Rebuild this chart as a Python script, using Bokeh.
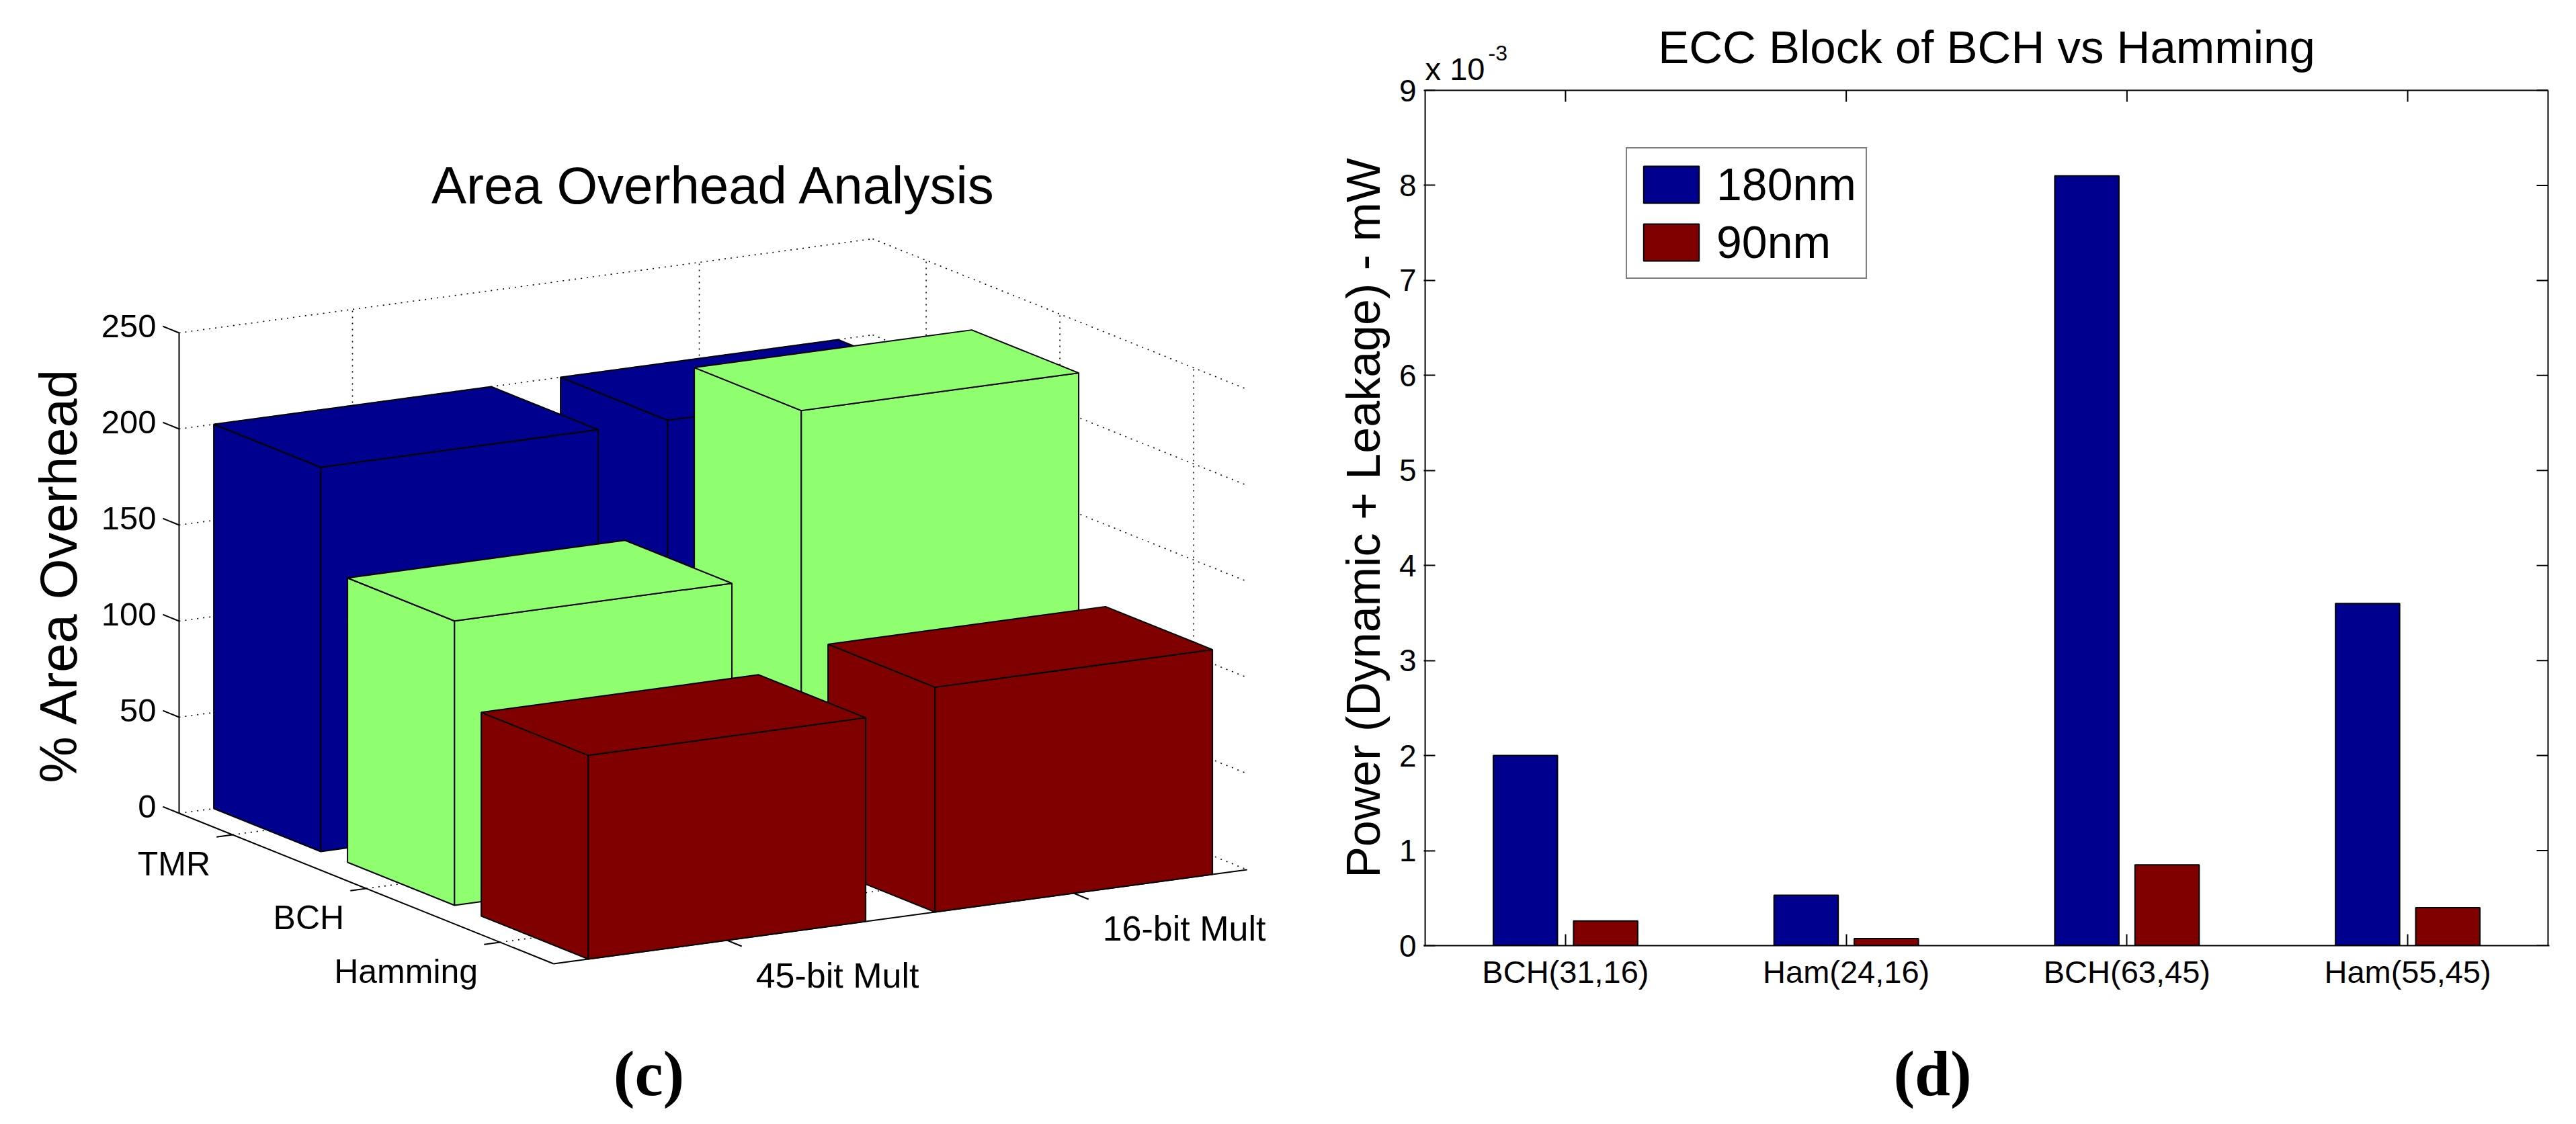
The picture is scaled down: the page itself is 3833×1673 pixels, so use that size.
import math
from bokeh.plotting import figure
from bokeh.models import Range1d, FactorRange, ColumnDataSource, FixedTicker
from bokeh.layouts import row, column
from bokeh.transform import dodge
from bokeh.core.properties import value
from bokeh.embed import file_html
from bokeh.resources import INLINE

# ---------------- data: panel (c) Area Overhead Analysis ----------------
rows_c = ["TMR", "BCH", "Hamming"]
cols_c = ["45-bit Mult", "16-bit Mult"]
tmr_overhead = [200, 200]
bch_overhead = [148, 233]
hamming_overhead = [106, 117]
z_ticks = [0, 50, 100, 150, 200, 250]

# ---------------- data: panel (d) ECC Block of BCH vs Hamming ----------------
codes = ["BCH(31,16)", "Ham(24,16)", "BCH(63,45)", "Ham(55,45)"]
power_180nm = [2.00, 0.53, 8.10, 3.60]   # units of 10^-3 mW
power_90nm = [0.26, 0.075, 0.85, 0.40]   # units of 10^-3 mW
y_ticks_d = [0, 1, 2, 3, 4, 5, 6, 7, 8, 9]

# colours (jet colormap, as in the source)
BLUE, GREEN, RED = "#00008F", "#8FFF70", "#800000"
row_colors = [BLUE, GREEN, RED]

SANS = "Liberation Sans"
SERIF = "Liberation Serif"

W_L, W_R, H_TOP, H_BOT = 2070, 1747, 1512, 145
H_ALL = H_TOP + H_BOT
B_BOT = 105   # bottom border of the bar chart
B_LEFT, B_RIGHT = 48, 24

# =============== panel (c): oblique 3-D bars drawn in pixel space ===============
pc = figure(width=W_L, height=H_ALL, x_range=Range1d(8, 8 + W_L),
            y_range=Range1d(8 + H_ALL, 8), x_axis_type=None, y_axis_type=None,
            output_backend="svg", toolbar_location=None, title=None, min_border=0)
pc.grid.visible = False
pc.outline_line_color = None

# view of the 3-D axes box (x: columns, y: rows, z: value)
X0, XMAX = 0.5, 0.5 + len(cols_c)
Y0, YMAX = 0.6, len(rows_c) + 0.4
ZMAX = z_ticks[-1]
ORIG = (274.0, 1218.0)
EX = (516.0, -70.0)
EY = (199.0, 80.0)
EZ = -2.86


def proj(x, y, z):
    return (ORIG[0] + (x - X0) * EX[0] + (y - Y0) * EY[0],
            ORIG[1] + (x - X0) * EX[1] + (y - Y0) * EY[1] + z * EZ)


def seg(store_x, store_y, p, q):
    store_x.append([p[0], q[0]])
    store_y.append([p[1], q[1]])


gx, gy = [], []
for z in z_ticks:
    seg(gx, gy, proj(X0, Y0, z), proj(XMAX, Y0, z))
    seg(gx, gy, proj(XMAX, Y0, z), proj(XMAX, YMAX, z))
for i in range(len(cols_c)):
    xc = i + 1
    seg(gx, gy, proj(xc, Y0, 0), proj(xc, Y0, ZMAX))
    seg(gx, gy, proj(xc, Y0, 0), proj(xc, YMAX, 0))
for j in range(len(rows_c)):
    yr = j + 1
    seg(gx, gy, proj(XMAX, yr, 0), proj(XMAX, yr, ZMAX))
    seg(gx, gy, proj(X0, yr, 0), proj(XMAX, yr, 0))
pc.multi_line(gx, gy, line_color="black", line_width=1.6, line_dash="2 7")

# solid axis lines + ticks
ax, ay = [], []
seg(ax, ay, proj(X0, Y0, 0), proj(X0, Y0, ZMAX))
seg(ax, ay, proj(X0, Y0, 0), proj(X0, YMAX, 0))
seg(ax, ay, proj(X0, YMAX, 0), proj(XMAX, YMAX, 0))
ZT = (-24.0, -9.7)
RT = (-23.8, 3.2)
CT = (22.0, 9.0)
zlx, zly, zlt = [], [], []
for z in z_ticks:
    p = proj(X0, Y0, z)
    q = (p[0] + ZT[0], p[1] + ZT[1])
    seg(ax, ay, p, q)
    zlx.append(q[0] - 10)
    zly.append(q[1])
    zlt.append(str(z))
rlx, rly = [], []
for j in range(len(rows_c)):
    p = proj(X0, j + 1, 0)
    seg(ax, ay, p, (p[0] + RT[0], p[1] + RT[1]))
    rlx.append(p[0] - 33)
    rly.append(p[1] + 43)
clx, cly = [], []
for i in range(len(cols_c)):
    p = proj(i + 1, YMAX, 0)
    seg(ax, ay, p, (p[0] + CT[0], p[1] + CT[1]))
    clx.append(p[0] + 43)
    cly.append(p[1] + 52)
pc.multi_line(ax, ay, line_color="black", line_width=2)

# bars, painted back to front
values_c = [tmr_overhead, bch_overhead, hamming_overhead]
bx, by, bc = [], [], []
for j in range(len(rows_c)):
    for i in reversed(range(len(cols_c))):
        h = values_c[j][i]
        x0, x1 = i + 1 - 0.4, i + 1 + 0.4
        y0, y1 = j + 1 - 0.4, j + 1 + 0.4
        faces = [
            [proj(x0, y0, 0), proj(x0, y1, 0), proj(x0, y1, h), proj(x0, y0, h)],
            [proj(x0, y1, 0), proj(x1, y1, 0), proj(x1, y1, h), proj(x0, y1, h)],
            [proj(x0, y0, h), proj(x0, y1, h), proj(x1, y1, h), proj(x1, y0, h)],
        ]
        for f in faces:
            bx.append([pt[0] for pt in f])
            by.append([pt[1] for pt in f])
            bc.append(row_colors[j])
pc.patches(bx, by, fill_color=bc, line_color="black", line_width=2)

pc.text(zlx, zly, text=zlt, text_align="right", text_baseline="middle",
        text_font=value(SANS), text_font_size="49px", text_color="black")
pc.text(rlx, rly, text=rows_c, text_align="right", text_baseline="middle",
        text_font=value(SANS), text_font_size="50px", text_color="black")
pc.text(clx, cly, text=cols_c, text_align="left", text_baseline="middle",
        text_font=value(SANS), text_font_size="52px", text_color="black")
pc.text([1070], [283], text=["Area Overhead Analysis"], text_align="center",
        text_baseline="middle", text_font=value(SANS), text_font_size="78px",
        text_color="black")
pc.text([94], [863], text=["% Area Overhead"], angle=math.pi / 2,
        text_align="center", text_baseline="middle", text_font=value(SANS),
        text_font_size="78px", text_color="black")
pc.text([973], [1605], text=["(c)"], text_align="center", text_baseline="middle",
        text_font=value(SERIF), text_font_size="95px", text_font_style="bold",
        text_color="black")
# y-axis title of panel (d), centred on its axes box (which spans y 142..1415)
pc.text([2036], [(142 + 1415) / 2], text=["Power (Dynamic + Leakage) - mW"],
        angle=math.pi / 2, text_align="center", text_baseline="middle",
        text_font=value(SANS), text_font_size="70px", text_color="black")

# =============== panel (d): grouped bars ===============
PX_PER_UNIT_Y = 141.44
PX_PER_UNIT_X = 417.75
Y_TOP = (1415 - 8) / PX_PER_UNIT_Y      # frame reaches the top of the figure
PAD = 0.005
src = ColumnDataSource(dict(code=codes, p180=power_180nm, p90=power_90nm))
pd_ = figure(width=W_R, height=H_TOP,
             x_range=FactorRange(*codes, range_padding=PAD, range_padding_units="absolute"),
             y_range=Range1d(0, Y_TOP), output_backend="svg", toolbar_location=None,
             title=None, min_border_left=B_LEFT, min_border_right=B_RIGHT, min_border_top=0,
             min_border_bottom=B_BOT)
pd_.grid.visible = False
pd_.outline_line_color = None

BW = 0.2286
OFF = 0.1429
pd_.vbar(x=dodge("code", -OFF, range=pd_.x_range), top="p180", width=BW, source=src,
         fill_color=BLUE, line_color="black", line_width=2, legend_label="180nm")
pd_.vbar(x=dodge("code", OFF, range=pd_.x_range), top="p90", width=BW, source=src,
         fill_color=RED, line_color="black", line_width=2, legend_label="90nm")

# box edges (left, top, right) and mirrored inward ticks
n = len(codes)
ymax_d = y_ticks_d[-1]
pd_.segment(x0=[0, 0, n], y0=[0, ymax_d, 0], x1=[0, n, n], y1=[ymax_d, ymax_d, ymax_d],
            line_color="black", line_width=2)
pd_.segment(x0=codes, y0=[ymax_d] * n, x1=codes, y1=[ymax_d - 17 / PX_PER_UNIT_Y] * n,
            line_color="black", line_width=2)
pd_.segment(x0=[n] * len(y_ticks_d), y0=y_ticks_d,
            x1=[n - 17 / PX_PER_UNIT_X] * len(y_ticks_d), y1=y_ticks_d,
            line_color="black", line_width=2)

for a in [pd_.xaxis[0], pd_.yaxis[0]]:
    a.major_tick_in = 17
    a.major_tick_out = 0
    a.minor_tick_in = 0
    a.minor_tick_out = 0
    a.axis_line_width = 2
    a.major_tick_line_width = 2
    a.major_label_text_font = SANS
    a.major_label_text_color = "black"
    a.axis_line_color = "black"
    a.major_tick_line_color = "black"

pd_.yaxis.axis_line_color = None
pd_.xaxis.major_label_text_font_size = "47px"
pd_.xaxis.major_label_standoff = 12
pd_.yaxis.ticker = FixedTicker(ticks=y_ticks_d)
pd_.yaxis.major_label_text_font_size = "46px"
pd_.yaxis.major_label_standoff = 11

# title and axis multiplier (inside the tall frame, above the box)
pd_.text(x=[n / 2], y=[(1415 - 78) / PX_PER_UNIT_Y], text=["ECC Block of BCH vs Hamming"],
         text_align="center", text_baseline="middle", text_font=value(SANS),
         text_font_size="69px", text_color="black")
pd_.text(x=[0], y=[(1415 - 110) / PX_PER_UNIT_Y], text=["x 10"], text_align="left",
         text_baseline="middle", text_font=value(SANS), text_font_size="47px",
         text_color="black")
pd_.text(x=[(2222 - 2128) / PX_PER_UNIT_X], y=[(1415 - 86) / PX_PER_UNIT_Y], text=["-3"],
         text_align="left", text_baseline="middle", text_font=value(SANS),
         text_font_size="32px", text_color="black")

lg = pd_.legend[0]
lg.location = (301, 992)
lg.label_text_font = SANS
lg.label_text_font_size = "68px"
lg.label_text_color = "black"
lg.glyph_width = 103
lg.glyph_height = 69
lg.padding = 14
lg.spacing = 8
lg.label_standoff = 16
lg.margin = 0
lg.border_line_color = "black"
lg.border_line_width = 2
lg.background_fill_alpha = 1

# caption under panel (d); borders match the bar chart so the frames line up
X_FRAME_L = 8 + W_L + B_LEFT
X_FRAME_R = 8 + W_L + W_R - B_RIGHT
pb = figure(width=W_R, height=H_BOT, x_range=Range1d(X_FRAME_L, X_FRAME_R),
            y_range=Range1d(8 + H_ALL, 8 + H_TOP), x_axis_type=None,
            y_axis_type=None, output_backend="svg", toolbar_location=None, title=None,
            min_border_left=B_LEFT, min_border_right=B_RIGHT, min_border_top=0,
            min_border_bottom=0)
pb.grid.visible = False
pb.outline_line_color = None
pb.text([2883], [1605], text=["(d)"], text_align="center",
        text_baseline="middle", text_font=value(SERIF), text_font_size="95px",
        text_font_style="bold", text_color="black")

layout = row(pc, column(pd_, pb))
open("out.html", "w").write(file_html(layout, INLINE))
